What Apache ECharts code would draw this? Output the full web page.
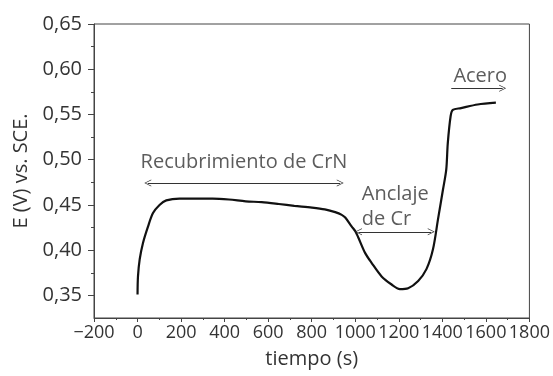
<!DOCTYPE html>
<html><head><meta charset="utf-8">
<script src="https://cdn.jsdelivr.net/npm/echarts@6/dist/echarts.min.js"></script>
<style>html,body{margin:0;padding:0;background:#fff}#c{width:553px;height:376px}</style>
</head><body><div id="c"></div>
<script>
// time (s)
var timeS = [0, 2, 10, 25, 48, 71, 101, 132, 193, 260, 345, 420, 497, 570, 649, 720, 801, 860, 908, 938, 954, 984, 1000, 1014, 1045, 1075, 1121, 1167, 1205, 1243, 1289, 1327, 1357, 1380, 1403, 1418, 1425, 1438, 1448, 1486, 1562, 1646];
// potential E (V) vs SCE
var potentialV = [0.351, 0.371, 0.390, 0.408, 0.426, 0.441, 0.450, 0.455, 0.457, 0.457, 0.457, 0.456, 0.454, 0.453, 0.451, 0.449, 0.447, 0.445, 0.442, 0.439, 0.436, 0.426, 0.421, 0.414, 0.397, 0.386, 0.371, 0.362, 0.357, 0.358, 0.366, 0.379, 0.401, 0.434, 0.467, 0.489, 0.518, 0.548, 0.555, 0.557, 0.561, 0.563];

var yLabelValues = [0.35, 0.40, 0.45, 0.50, 0.55, 0.60, 0.65];
var yMinorValues = [0.375, 0.425, 0.475, 0.525, 0.575, 0.625];

// annotation texts and their positions (data units)
var noteTexts = ['Recubrimiento de CrN', 'Anclaje\nde Cr', 'Acero'];
var noteX = [489, 1030, 1574];
var noteY = [0.497, 0.4483, 0.592];
// arrows: [x1, x2, y, both-ended]
var arrowX1 = [47, 1015, 1441];
var arrowX2 = [931, 1349, 1677];
var arrowY = [0.4743, 0.4203, 0.579];
var arrowBoth = [true, true, false];

var FONT = '"Open Sans", "Noto Sans", sans-serif';
var FS = 20;
var TXT = '#333';
var chevron = 'path://M0,10 L5,0 L10,10 L9,10 L5,2 L1,10 Z';

var lineData = timeS.map(function (t, i) { return [t, potentialV[i]]; });
var markLines = arrowX1.map(function (x1, i) {
  return [
    { coord: [x1, arrowY[i]], symbol: arrowBoth[i] ? chevron : 'none' },
    { coord: [arrowX2[i], arrowY[i]], symbol: chevron }
  ];
});
var noteData = noteTexts.map(function (t, i) { return { value: [noteX[i], noteY[i]], name: t }; });

var chart = echarts.init(document.getElementById('c'), null, { renderer: 'canvas' });
chart.setOption({
  animation: false,
  grid: { left: 94, right: 21, top: 24, bottom: 58, show: true, borderColor: '#444', borderWidth: 1 },
  xAxis: {
    type: 'value', min: -200, max: 1800, interval: 200,
    name: 'tiempo (s)', nameLocation: 'middle', nameGap: 31,
    nameTextStyle: { fontFamily: FONT, fontSize: FS, color: TXT },
    axisLine: { show: true, onZero: false, lineStyle: { color: '#444', width: 1 } },
    axisTick: { show: true, length: 4, inside: false, lineStyle: { color: '#444' } },
    minorTick: { show: true, splitNumber: 2, length: 2, lineStyle: { color: '#444' } },
    splitLine: { show: false },
    axisLabel: {
      fontFamily: FONT, fontSize: 18, color: TXT, margin: 6, hideOverlap: false,
      showMinLabel: true, showMaxLabel: true,
      formatter: function (v) { return v < 0 ? '\u2212' + Math.abs(v) : String(v); }
    }
  },
  yAxis: [{
    type: 'value', min: 0.325, max: 0.65, interval: 0.025,
    name: 'E (V) vs. SCE.', nameLocation: 'middle', nameGap: 61,
    nameTextStyle: { fontFamily: FONT, fontSize: FS, color: TXT },
    axisLine: { show: true, onZero: false, lineStyle: { color: '#444', width: 1 } },
    axisTick: { show: true, length: 6, customValues: yLabelValues, lineStyle: { color: '#444' } },
    splitLine: { show: false },
    axisLabel: {
      fontFamily: FONT, fontSize: FS, color: TXT, margin: 12, customValues: yLabelValues,
      formatter: function (v) { return v.toFixed(2).replace('.', ','); }
    }
  }, {
    type: 'value', min: 0.325, max: 0.65, interval: 0.025, position: 'left',
    axisLine: { show: false, onZero: false },
    axisTick: { show: true, length: 3, customValues: yMinorValues, lineStyle: { color: '#444' } },
    axisLabel: { show: false },
    splitLine: { show: false }
  }],
  series: [{
    type: 'line', data: lineData, showSymbol: false, smooth: 0.3,
    lineStyle: { color: '#111', width: 2.2 },
    markLine: {
      silent: true, symbolSize: [7, 7], precision: 4,
      lineStyle: { color: '#333', width: 1, type: 'solid' },
      label: { show: false },
      data: markLines
    }
  }, {
    type: 'scatter', data: noteData, symbolSize: 0, silent: true,
    label: {
      show: true, position: 'inside', fontFamily: FONT, fontSize: FS, color: TXT, lineHeight: 25,
      formatter: function (p) { return p.name; },
      align: 'center'
    },
    labelLayout: function (p) {
      if (p.dataIndex === 1) { return { align: 'left' }; }
      return {};
    }
  }]
});
</script></body></html>
